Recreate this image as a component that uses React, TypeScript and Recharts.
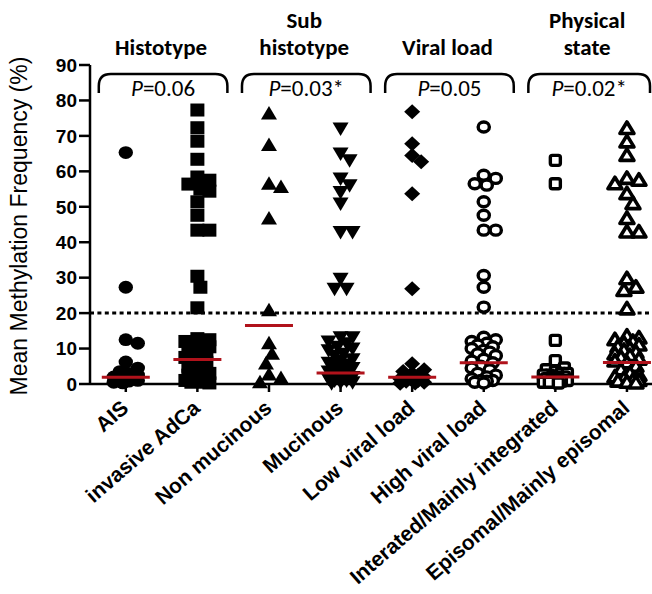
import React from 'react';
import { ScatterChart, Scatter, XAxis, YAxis, ReferenceLine } from 'recharts';

const categories = [
  'AIS',
  'invasive AdCa',
  'Non mucinous',
  'Mucinous',
  'Low viral load',
  'High viral load',
  'Interated/Mainly integrated',
  'Episomal/Mainly episomal',
];

// methylation frequency (%) per sample
const ais = [65.3, 27.3, 12.5, 11.5, 6.2, 4.5, 3.5, 3, 2.5, 2, 2, 1.8, 1.5, 1.2, 1, 0.8, 0.5, 0.3];
const invasiveAdCa = [
  77.3, 72.3, 68.5, 63.4, 58.4, 57.5, 56.4, 55, 54.4, 51.4, 47.6, 43.4, 43.4, 30.4, 27.3, 21.5,
  12.8, 12.5, 12, 11.5, 11, 10.5, 10, 9.5, 9, 8.5, 7.5, 6.5, 6, 5, 4, 3, 2.5, 2, 1.5, 1.5, 1, 1,
  0.5, 0.5, 0.3,
];
const nonMucinous = [76.3, 67.4, 56.5, 55.6, 46.7, 20.8, 11.5, 8.5, 5.8, 2.7, 1.7, 0.5];
const mucinous = [
  72.1, 65, 63.1, 58, 56.1, 54.2, 50.9, 42.9, 42.9, 29.7, 26.9, 26.9, 13.2, 13.2, 12, 11.5, 10.5,
  10, 9.5, 8.5, 8, 7, 6.5, 6, 5.5, 5, 4.5, 4, 3.5, 3, 2.5, 2, 1.5, 1.5, 1, 1, 0.5, 0.5, 0.2,
];
const lowViral = [
  76.8, 67.8, 64.5, 62.7, 53.7, 26.9, 5.7, 4, 3.5, 3, 2.5, 2, 2, 1.5, 1.2, 1, 0.8, 0.5, 0.3, 0.2,
];
const highViral = [
  72.5, 58.9, 58, 56.5, 56.1, 51.4, 47.6, 43.4, 43.4, 30.6, 27.3, 21.7, 13.2, 12.5, 12, 11.5, 11,
  10.5, 10, 9.5, 9, 8.5, 8, 7, 6.5, 6, 5, 4.5, 4, 3, 2.5, 2, 1.5, 1, 1, 0.8, 0.5, 0.3,
];
const integrated = [
  63.1, 56.5, 12.3, 6.6, 4.5, 4, 3.5, 3, 3, 2.5, 2.5, 2, 2, 1.5, 1.5, 1.2, 1, 1, 0.8, 0.5, 0.5, 0.3,
];
const episomal = [
  72.1, 68.3, 64.5, 58, 57.5, 56.5, 53.7, 50.9, 46.7, 42.9, 42.9, 29.7, 27.3, 26.4, 21.2, 13.5,
  13, 12.5, 12, 11.5, 11, 10.5, 10, 9.5, 9, 8.5, 8, 7.5, 7, 6.5, 6, 5, 4, 3, 2.5, 2, 1.5, 1, 1,
  0.8, 0.5, 0.3,
];
const seriesValues = [ais, invasiveAdCa, nonMucinous, mucinous, lowViral, highViral, integrated, episomal];

const medians = [1.9, 6.9, 16.5, 3.1, 1.9, 6.0, 2.0, 6.1];
const cutoff = 20;

const groupTitles = [['Histotype'], ['Sub', 'histotype'], ['Viral load'], ['Physical', 'state']];
const pValues = ['=0.06', '=0.03*', '=0.05', '=0.02*'];
const yTicks = [0, 10, 20, 30, 40, 50, 60, 70, 80, 90];

const W = 652;
const H = 594;
const PLOT_L = 90;
const PLOT_R = 652;
const PLOT_T = 65;
const PLOT_B = 384;
const X_DOMAIN: [number, number] = [0.5, 8.35];
const Y_MAX = 90;
const PX_PER_X = (PLOT_R - PLOT_L) / (X_DOMAIN[1] - X_DOMAIN[0]);
const PX_PER_Y = (PLOT_B - PLOT_T) / Y_MAX;
const xPix = (v: number) => PLOT_L + (v - X_DOMAIN[0]) * PX_PER_X;

const BLACK = '#000';
const RED = '#b0121b';
const ARIAL = '"Liberation Sans", Arial, sans-serif';
const CALIBRI = 'Carlito, Lato, sans-serif';

// beeswarm in pixel space: spread dots sideways, but no wider than +-12px,
// after which they pile up on the least crowded spot (like GraphPad)
function swarm(values: number[]) {
  const minDist = 11;
  const steps = [0, 3, -3, 6, -6, 9, -9, 12, -12];
  const placed: { dx: number; py: number }[] = [];
  return values.map((v) => {
    const py = v * PX_PER_Y;
    let best = 0;
    let bestD = -1;
    for (const dx of steps) {
      let d = Infinity;
      for (const p of placed) d = Math.min(d, Math.hypot(p.dx - dx, p.py - py));
      if (d >= minDist) {
        best = dx;
        break;
      }
      if (d > bestD + 0.5) {
        bestD = d;
        best = dx;
      }
    }
    placed.push({ dx: best, py });
    return best / PX_PER_X;
  });
}

function Marker({ kind, cx, cy }: { kind: number; cx: number; cy: number }) {
  switch (kind) {
    case 0:
      return <ellipse cx={cx} cy={cy} rx={7.2} ry={6.4} fill={BLACK} />;
    case 1:
      return <rect x={cx - 7} y={cy - 6.5} width={14} height={13} fill={BLACK} />;
    case 2:
      return <polygon points={`${cx},${cy - 7.5} ${cx + 8},${cy + 6} ${cx - 8},${cy + 6}`} fill={BLACK} />;
    case 3:
      return <polygon points={`${cx},${cy + 7.5} ${cx + 8},${cy - 6} ${cx - 8},${cy - 6}`} fill={BLACK} />;
    case 4:
      return <polygon points={`${cx},${cy - 7.5} ${cx + 8},${cy} ${cx},${cy + 7.5} ${cx - 8},${cy}`} fill={BLACK} />;
    case 5:
      return <ellipse cx={cx} cy={cy} rx={5.6} ry={5} fill="#fff" stroke={BLACK} strokeWidth={3.4} />;
    case 6:
      return <rect x={cx - 5} y={cy - 5} width={10} height={10} rx={2} fill="#fff" stroke={BLACK} strokeWidth={3.4} />;
    default:
      return (
        <polygon
          points={`${cx},${cy - 6.5} ${cx + 7},${cy + 5} ${cx - 7},${cy + 5}`}
          fill="#fff"
          stroke={BLACK}
          strokeWidth={3.6}
          strokeLinejoin="round"
        />
      );
  }
}

function XTick(props: any) {
  const { x, y, payload } = props;
  const ax = x + 4;
  const ay = y + 18;
  return (
    <text
      x={ax}
      y={ay}
      transform={`rotate(-41, ${ax}, ${ay})`}
      textAnchor="end"
      fontFamily={ARIAL}
      fontWeight="bold"
      fontSize={21}
      fill={BLACK}
    >
      {categories[payload.value - 1]}
    </text>
  );
}

function Annotations() {
  return (
    <svg width={W} height={H} style={{ position: 'absolute', left: 0, top: 0, pointerEvents: 'none' }}>
      <text
        x={19}
        y={226}
        transform="rotate(-90, 19, 226)"
        textAnchor="middle"
        dominantBaseline="central"
        fontFamily={ARIAL}
        fontSize={23}
        fill={BLACK}
      >
        Mean Methylation Frequency (%)
      </text>
      {groupTitles.map((lines, g) => {
        const a = xPix(2 * g + 1);
        const b = xPix(2 * g + 2);
        const left = a - 27;
        const right = Math.min(b + 30, 650);
        const top = 74;
        const bottom = 93;
        const r = 12;
        const mid = (left + right) / 2;
        return (
          <g key={g}>
            <path
              d={`M${left},${bottom} L${left},${top + r} Q${left},${top} ${left + r},${top} L${right - r},${top} Q${right},${top} ${right},${top + r} L${right},${bottom}`}
              fill="none"
              stroke={BLACK}
              strokeWidth={2.5}
            />
            <text x={mid} y={96} textAnchor="middle" fontFamily={CALIBRI} fontSize={23} fill={BLACK}>
              <tspan fontStyle="italic">P</tspan>
              {pValues[g]}
            </text>
            {lines.map((line, k) => (
              <text
                key={k}
                x={mid - 2}
                y={55 - (lines.length - 1 - k) * 27}
                textAnchor="middle"
                fontFamily={CALIBRI}
                fontWeight="bold"
                fontSize={23}
                fill={BLACK}
              >
                {line}
              </text>
            ))}
          </g>
        );
      })}
    </svg>
  );
}

export default function App() {
  const seriesData = seriesValues.map((vals, i) => {
    const offs = swarm(vals);
    return vals.map((v, j) => ({ x: i + 1 + offs[j], y: v }));
  });
  const medianData = medians.map((m, i) => ({ x: i + 1, y: m }));

  return (
    <div style={{ position: 'absolute', left: 0, top: 0, width: W, height: H, background: '#fff' }}>
      <ScatterChart width={W} height={H} margin={{ top: PLOT_T, right: 0, bottom: 0, left: 0 }}>
        <XAxis
          type="number"
          dataKey="x"
          domain={X_DOMAIN}
          allowDataOverflow
          ticks={[1, 2, 3, 4, 5, 6, 7, 8]}
          interval={0}
          height={H - PLOT_B}
          tickSize={8}
          tickMargin={0}
          tick={<XTick />}
          axisLine={{ stroke: BLACK, strokeWidth: 2.5 }}
          tickLine={{ stroke: BLACK, strokeWidth: 2.5 }}
        />
        <YAxis
          type="number"
          dataKey="y"
          domain={[0, Y_MAX]}
          ticks={yTicks}
          interval={0}
          width={PLOT_L}
          tickSize={11}
          tickMargin={2}
          tick={{ fill: BLACK, fontSize: 19, fontWeight: 'bold', fontFamily: ARIAL }}
          axisLine={{ stroke: BLACK, strokeWidth: 2.5 }}
          tickLine={{ stroke: BLACK, strokeWidth: 2.5 }}
        />
        <ReferenceLine y={cutoff} stroke={BLACK} strokeWidth={3} strokeDasharray="4 3.4" />
        {seriesData.map((data, i) => (
          <Scatter
            key={categories[i]}
            data={data}
            isAnimationActive={false}
            shape={(p: any) => <Marker kind={i} cx={p.cx} cy={p.cy} />}
          />
        ))}
        <Scatter
          data={medianData}
          isAnimationActive={false}
          shape={(p: any) => (
            <line x1={p.cx - 24} x2={p.cx + 24} y1={p.cy} y2={p.cy} stroke={RED} strokeWidth={3} />
          )}
        />
      </ScatterChart>
      <Annotations />
    </div>
  );
}
